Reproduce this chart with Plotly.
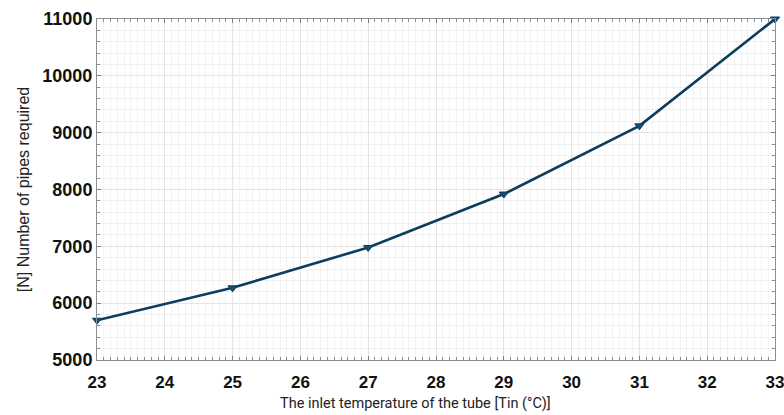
import plotly.graph_objects as go

# Inlet temperature of the tube (°C) and the number of pipes needed
inlet_temp = [23, 25, 27, 29, 31, 33]
pipes_required = [5700, 6270, 6980, 7920, 9120, 11000]

x_ticks = [23, 24, 25, 26, 27, 28, 29, 30, 31, 32, 33]
y_ticks = [5000, 6000, 7000, 8000, 9000, 10000, 11000]

line_color = "#0c3d5e"

fig = go.Figure()
fig.add_trace(go.Scatter(
    x=inlet_temp,
    y=pipes_required,
    mode="lines+markers",
    line=dict(color=line_color, width=2.6),
    marker=dict(symbol="triangle-down", size=8, color="#104e78",
                line=dict(color=line_color, width=1)),
    cliponaxis=False,
    showlegend=False,
))

axis_common = dict(
    showline=True,
    linecolor="#8a8f94",
    linewidth=1,
    mirror="allticks",
    ticks="inside",
    ticklen=4,
    tickcolor="#7a7f84",
    showgrid=True,
    gridcolor="#e2e4e6",
    gridwidth=1,
    zeroline=False,
    automargin=False,
    ticklabeloverflow="allow",
)

fig.update_xaxes(
    range=[23, 33],
    tickvals=x_ticks,
    ticktext=[str(v) for v in x_ticks],
    tickfont=dict(family="Liberation Sans, Arial, sans-serif", size=17,
                  color="#111111", weight="bold"),
    ticklabelstandoff=7,
    minor=dict(dtick=0.1, ticks="inside", ticklen=3, tickcolor="#8a8f94",
               showgrid=True, gridcolor="#f2f3f4", gridwidth=1),
    **axis_common,
)
fig.update_yaxes(
    range=[5000, 11000],
    tickvals=y_ticks,
    ticktext=[str(v) for v in y_ticks],
    tickfont=dict(family="Liberation Sans, Arial, sans-serif", size=18,
                  color="#111111", weight="bold"),
    minor=dict(dtick=200, ticks="inside", ticklen=3, tickcolor="#8a8f94",
               showgrid=True, gridcolor="#eff0f1", gridwidth=1),
    title=dict(text="[N] Number of pipes required",
               font=dict(family="Liberation Sans, Arial, sans-serif", size=16,
                         color="#222222"),
               standoff=8),
    **axis_common,
)

# x-axis title, placed slightly left of the plot centre
fig.add_annotation(
    text="The inlet temperature of the tube [Tin (°C)]",
    xref="paper", yref="paper",
    x=0.47, y=0, yshift=-43,
    xanchor="center", yanchor="middle",
    showarrow=False,
    font=dict(family="Roboto, sans-serif", size=14.5, color="#222222"),
)

fig.update_layout(
    width=784,
    height=415,
    margin=dict(l=97, r=9, t=19, b=55),
    paper_bgcolor="white",
    plot_bgcolor="white",
)

fig.write_html("out.html")
